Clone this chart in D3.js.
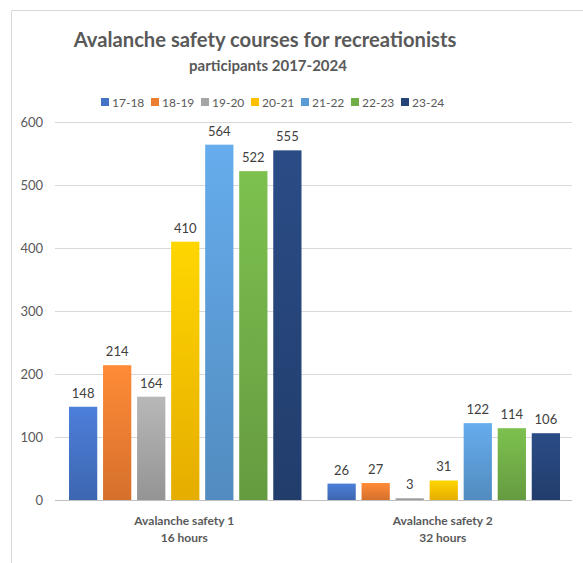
<!DOCTYPE html>
<html>
<head>
<meta charset="utf-8">
<script src="https://cdn.jsdelivr.net/npm/d3@7"></script>
<style>
  body { margin: 0; background: #fff; }
  text { font-family: Lato, "Open Sans", sans-serif; }
</style>
</head>
<body>
<svg class="chart"></svg>
<script>
var seasons = ["17-18","18-19","19-20","20-21","21-22","22-23","23-24"];
var courses = ["Avalanche safety 1", "Avalanche safety 2"];
var courseHours = ["16 hours", "32 hours"];
var course1 = [148, 214, 164, 410, 564, 522, 555];
var course2 = [26, 27, 3, 31, 122, 114, 106];
var yTicks = [0, 100, 200, 300, 400, 500, 600];
var colors = ["#4472C4","#ED7D31","#A5A5A5","#FFC000","#5B9BD5","#70AD47","#264478"];

var W = 583, H = 563;
var margin = {top: 122, right: 11, bottom: 63, left: 55},
    width  = W - margin.left - margin.right,
    height = H - margin.top - margin.bottom;

var root = d3.select("svg.chart").attr("width", W).attr("height", H);

// chart frame
root.append("path")
  .attr("d", `M11.5,${H} V10.5 H${W}`)
  .attr("fill", "none")
  .attr("stroke", "#d9d9d9");

// gradients
var defs = root.append("defs");
colors.forEach(function(c, i) {
  var g = defs.append("linearGradient")
    .attr("id", "grad" + i)
    .attr("x1", 0).attr("y1", 0).attr("x2", 0).attr("y2", 1);
  g.append("stop").attr("offset", "0%").attr("stop-color", d3.color(c).brighter(0.3));
  g.append("stop").attr("offset", "100%").attr("stop-color", d3.color(c).darker(0.3));
});

root.append("text")
  .attr("x", 265).attr("y", 47)
  .attr("text-anchor", "middle")
  .attr("font-size", 20.2).attr("font-weight", "bold")
  .attr("fill", "#595959")
  .text("Avalanche safety courses for recreationists");

root.append("text")
  .attr("x", 268).attr("y", 71)
  .attr("text-anchor", "middle")
  .attr("font-size", 15).attr("font-weight", "bold")
  .attr("fill", "#595959")
  .text("participants 2017-2024");

// legend
var legend = root.append("g").attr("transform", "translate(101,102)");
var lx = 0;
seasons.forEach(function(s, i) {
  var item = legend.append("g").attr("transform", `translate(${lx},0)`);
  item.append("rect").attr("x", 0).attr("y", -4).attr("width", 8).attr("height", 8)
    .attr("fill", colors[i]);
  item.append("text").attr("x", 11).attr("y", 4.5)
    .attr("font-size", 12).attr("fill", "#595959").text(s);
  lx += 50;
});

var svg = root.append("g")
  .attr("transform", `translate(${margin.left},${margin.top})`);

var y = d3.scaleLinear().domain([0, 600]).range([height, 0]);
var x0 = d3.scaleBand().domain(courses).range([0, width]).paddingInner(0).paddingOuter(0);
var x1 = d3.scaleBand().domain(seasons).range([14, x0.bandwidth() - 12]).paddingInner(0.17).paddingOuter(0);

// gridlines
svg.append("g")
  .selectAll("line")
  .data(yTicks)
  .join("line")
    .attr("x1", 0).attr("x2", width)
    .attr("y1", d => Math.round(y(d)) + 0.5).attr("y2", d => Math.round(y(d)) + 0.5)
    .attr("stroke", d => d === 0 ? "#bfbfbf" : "#d9d9d9");

var yAxis = svg.append("g")
  .call(d3.axisLeft(y).tickValues(yTicks).tickSize(0).tickPadding(12));
yAxis.select(".domain").remove();
yAxis.selectAll("text")
  .attr("font-size", 13).attr("fill", "#595959")
  .style("font-family", "Lato, sans-serif");

var data = courses.map((c, ci) => ({
  course: c,
  values: (ci === 0 ? course1 : course2).map((v, i) => ({season: seasons[i], value: v, idx: i}))
}));

var groups = svg.selectAll(".grp")
  .data(data)
  .join("g")
    .attr("class", "grp")
    .attr("transform", d => `translate(${x0(d.course)},0)`);

groups.selectAll("rect")
  .data(d => d.values)
  .join("rect")
    .attr("x", d => x1(d.season))
    .attr("y", d => y(d.value))
    .attr("width", x1.bandwidth())
    .attr("height", d => height - y(d.value))
    .attr("fill", d => `url(#grad${d.idx})`);

groups.selectAll("text.val")
  .data(d => d.values)
  .join("text")
    .attr("class", "val")
    .attr("x", d => x1(d.season) + x1.bandwidth() / 2)
    .attr("y", d => y(d.value) - 9)
    .attr("text-anchor", "middle")
    .attr("font-size", 13).attr("fill", "#404040")
    .text(d => d.value);

// category labels
var cat = svg.append("g");
courses.forEach(function(c, i) {
  var cx = x0(c) + x0.bandwidth() / 2;
  cat.append("text").attr("x", cx).attr("y", height + 25)
    .attr("text-anchor", "middle").attr("font-size", 12).attr("font-weight", "bold")
    .attr("fill", "#595959").text(c);
  cat.append("text").attr("x", cx).attr("y", height + 42)
    .attr("text-anchor", "middle").attr("font-size", 12).attr("font-weight", "bold")
    .attr("fill", "#595959").text(courseHours[i]);
});
</script>
</body>
</html>
